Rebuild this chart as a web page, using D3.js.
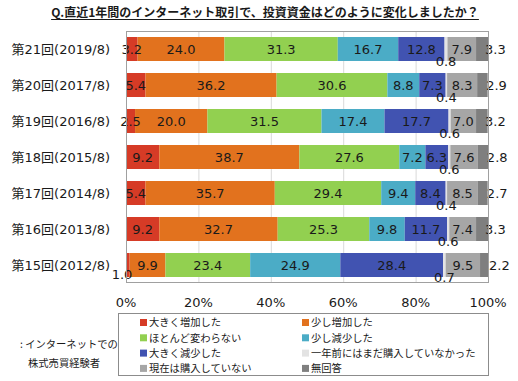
<!DOCTYPE html>
<html>
<head>
<meta charset="utf-8">
<script src="https://cdn.jsdelivr.net/npm/d3@7/dist/d3.min.js"></script>
<style>
  body { margin: 0; background: #fff; }
  svg { display: block; }
  text { font-family: "DejaVu Sans", "Noto Sans CJK JP", sans-serif; fill: #1a1a1a; }
  .jp { font-family: "Noto Sans CJK JP", sans-serif; }
</style>
</head>
<body>
<div id="chart"></div>
<script>
var title = 'Q.直近1年間のインターネット取引で、投資資金はどのように変化しましたか？';

var surveys = ['第21回(2019/8)', '第20回(2017/8)', '第19回(2016/8)', '第18回(2015/8)',
  '第17回(2014/8)', '第16回(2013/8)', '第15回(2012/8)'];

var answers = ['大きく増加した', '少し増加した', 'ほとんど変わらない', '少し減少した',
  '大きく減少した', '一年前にはまだ購入していなかった', '現在は購入していない', '無回答'];

var colors = ['#d63b26', '#e2721e', '#92d050', '#4bacc6', '#4153b1', '#e3e3e3', '#a6a6a6', '#7f7f7f'];

// one array per survey, in answer order (%)
var r2019 = [3.2, 24.0, 31.3, 16.7, 12.8, 0.8, 7.9, 3.3];
var r2017 = [5.4, 36.2, 30.6, 8.8, 7.3, 0.4, 8.3, 2.9];
var r2016 = [2.5, 20.0, 31.5, 17.4, 17.7, 0.6, 7.0, 3.2];
var r2015 = [9.2, 38.7, 27.6, 7.2, 6.3, 0.6, 7.6, 2.8];
var r2014 = [5.4, 35.7, 29.4, 9.4, 8.4, 0.4, 8.5, 2.7];
var r2013 = [9.2, 32.7, 25.3, 9.8, 11.7, 0.6, 7.4, 3.3];
var r2012 = [1.0, 9.9, 23.4, 24.9, 28.4, 0.7, 9.5, 2.2];

var values = [r2019, r2017, r2016, r2015, r2014, r2013, r2012];

var xTicks = [0, 20, 40, 60, 80, 100];
var note = [': インターネットでの', '株式売買経験者'];

var width = 518;
var height = 381;

var plot = { left: 126, right: 488, top: 31, bottom: 283 };

var svg = d3.select('#chart')
  .append('svg')
  .attr('width', width)
  .attr('height', height);

var x = d3.scaleLinear()
  .domain([0, 100])
  .range([plot.left, plot.right]);

var y = d3.scaleBand()
  .domain(surveys)
  .range([plot.top, plot.bottom])
  .paddingInner(1 / 3)
  .paddingOuter(1 / 6);

// stacked rows
var rows = surveys.map(function(name, i) {
  var acc = 0;
  return values[i].map(function(v, k) {
    var seg = { survey: name, k: k, v: v, x0: acc, x1: acc + v };
    acc += v;
    return seg;
  });
});

// title
var t = svg.append('text')
  .attr('class', 'jp')
  .attr('x', 265)
  .attr('y', 17)
  .attr('text-anchor', 'middle')
  .style('font-size', '12px')
  .style('font-weight', 'bold')
  .text(title);
var tb = t.node().getBBox();
svg.append('line')
  .attr('x1', tb.x).attr('x2', tb.x + tb.width)
  .attr('y1', 19.5).attr('y2', 19.5)
  .attr('stroke', '#1a1a1a')
  .attr('stroke-width', 1);

// grid
svg.append('g')
  .selectAll('line')
  .data(xTicks.slice(1, -1))
  .enter()
  .append('line')
  .attr('x1', function(d) { return x(d) + 0.5; })
  .attr('x2', function(d) { return x(d) + 0.5; })
  .attr('y1', plot.top)
  .attr('y2', plot.bottom)
  .attr('stroke', '#d9d9d9');

// bars
var rowG = svg.append('g')
  .selectAll('g')
  .data(rows)
  .enter()
  .append('g');

rowG.selectAll('rect')
  .data(function(d) { return d; })
  .enter()
  .append('rect')
  .attr('x', function(d) { return x(d.x0); })
  .attr('width', function(d) { return x(d.x1) - x(d.x0); })
  .attr('y', function(d) { return y(d.survey); })
  .attr('height', y.bandwidth())
  .attr('fill', function(d) { return colors[d.k]; });

// frame
svg.append('rect')
  .attr('x', plot.left + 0.5)
  .attr('y', plot.top + 0.5)
  .attr('width', plot.right - plot.left)
  .attr('height', plot.bottom - plot.top - 1)
  .attr('fill', 'none')
  .attr('stroke', '#a0a0a0');

// value labels
rowG.selectAll('text')
  .data(function(d) { return d; })
  .enter()
  .append('text')
  .style('font-size', '13px')
  .attr('dy', '0.36em')
  .attr('text-anchor', function(d) { return d.k === 7 ? 'start' : 'middle'; })
  .attr('x', function(d) {
    if (d.k === 7) return x(d.x0) + 9;
    if (d.k === 0 && d.v < 2) return x(d.x0) - 4;
    return x((d.x0 + d.x1) / 2);
  })
  .attr('y', function(d) {
    var c = y(d.survey) + y.bandwidth() / 2;
    if (d.k === 5) return c + 12;
    if (d.k === 0 && d.v < 2) return c + 9;
    return c;
  })
  .text(function(d) { return d.v.toFixed(1); });

// y labels
svg.append('g')
  .selectAll('text')
  .data(surveys)
  .enter()
  .append('text')
  .attr('x', 110)
  .attr('y', function(d) { return y(d) + y.bandwidth() / 2; })
  .attr('dy', '0.36em')
  .attr('text-anchor', 'end')
  .style('font-size', '13px')
  .text(function(d) { return d; });

// x tick labels
svg.append('g')
  .selectAll('text')
  .data(xTicks)
  .enter()
  .append('text')
  .attr('x', function(d) { return x(d); })
  .attr('y', 302)
  .attr('dy', '0.36em')
  .attr('text-anchor', 'middle')
  .style('font-size', '13px')
  .text(function(d) { return d + '%'; });

// legend
svg.append('rect')
  .attr('x', 118.5)
  .attr('y', 313.5)
  .attr('width', 370)
  .attr('height', 62)
  .attr('fill', 'none')
  .attr('stroke', '#8c8c8c');

var item = svg.append('g')
  .selectAll('g')
  .data(answers)
  .enter()
  .append('g')
  .attr('transform', function(d, i) {
    return 'translate(' + (i % 2 ? 302 : 140) + ',' + (322.5 + Math.floor(i / 2) * 15.3) + ')';
  });

item.append('rect')
  .attr('x', 0)
  .attr('y', -3.5)
  .attr('width', 7)
  .attr('height', 7)
  .attr('fill', function(d, i) { return colors[i]; });

item.append('text')
  .attr('class', 'jp')
  .attr('x', 9)
  .attr('dy', '0.36em')
  .style('font-size', '10.3px')
  .text(function(d) { return d; });

svg.append('g')
  .selectAll('text')
  .data(note)
  .enter()
  .append('text')
  .attr('class', 'jp')
  .attr('x', function(d, i) { return i ? 28 : 20; })
  .attr('y', function(d, i) { return 344 + i * 19; })
  .attr('dy', '0.36em')
  .style('font-size', '10.3px')
  .text(function(d) { return d; });
</script>
</body>
</html>
